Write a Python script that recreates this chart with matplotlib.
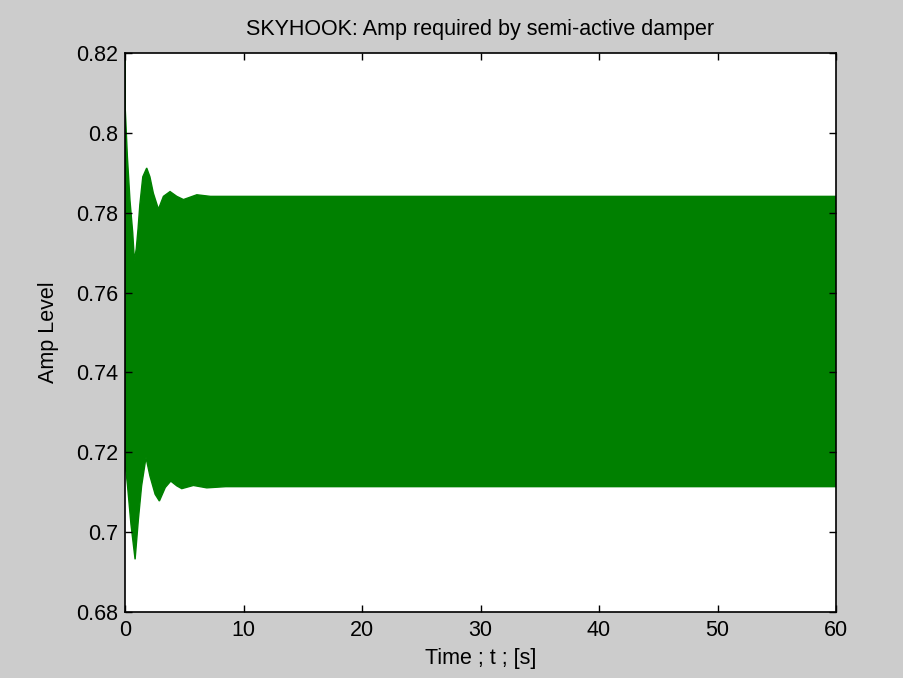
import matplotlib.pyplot as plt

# envelope of the (densely oscillating) amp signal
t_upper = [0.0, 0.02, 0.2, 0.42, 0.65, 0.79, 0.95, 1.1, 1.25, 1.5, 1.83, 2.1, 2.39,
           2.82, 3.24, 3.8, 4.37, 4.93, 6.06, 7.2, 8.5, 20.0, 40.0, 60.0]
amp_upper = [0.82, 0.806, 0.794, 0.783, 0.775, 0.768, 0.771, 0.776, 0.782, 0.789,
             0.7912, 0.789, 0.7849, 0.7809, 0.7841, 0.7853, 0.7841, 0.7833, 0.7845,
             0.7841, 0.7841, 0.7841, 0.7841, 0.7841]

t_lower = [0.0, 0.05, 0.2, 0.5, 0.85, 1.13, 1.4, 1.77, 2.1, 2.54, 2.9, 3.4, 3.86,
           4.37, 4.79, 5.77, 6.9, 8.5, 20.0, 40.0, 60.0]
amp_lower = [0.7257, 0.716, 0.712, 0.702, 0.6932, 0.7033, 0.7116, 0.7187, 0.7141,
             0.7095, 0.7078, 0.7112, 0.7128, 0.7116, 0.7109, 0.7117, 0.7111, 0.7114,
             0.7114, 0.7114, 0.7114]

plt.rcParams["font.family"] = ["Liberation Sans", "DejaVu Sans"]

fig = plt.figure(figsize=(9.04, 6.78), dpi=100, facecolor="#cccccc")
ax = fig.add_axes([0.1383, 0.0973, 0.7865, 0.8245])

# the band: upper envelope forward, lower envelope back
ax.fill(t_upper + t_lower[::-1], amp_upper + amp_lower[::-1],
        color="#008000", linewidth=1.0)

ax.set_xlim(0, 60)
ax.set_ylim(0.68, 0.82)
ax.set_xticks([0, 10, 20, 30, 40, 50, 60])
ax.set_yticks([0.68, 0.7, 0.72, 0.74, 0.76, 0.78, 0.8, 0.82])
ax.set_yticklabels(["0.68", "0.7", "0.72", "0.74", "0.76", "0.78", "0.8", "0.82"])
ax.tick_params(direction="in", top=True, right=True, length=5, width=1,
               labelsize=15.5, colors="black")
ax.tick_params(axis="x", pad=6)
ax.tick_params(axis="y", pad=5)
for s in ax.spines.values():
    s.set_linewidth(1.2)

ax.set_title("SKYHOOK: Amp required by semi-active damper", fontsize=15.5, pad=13)
ax.set_xlabel("Time ; t ; [s]", fontsize=15.5, labelpad=5)
ax.set_ylabel("Amp Level", fontsize=15.5, labelpad=12)

fig.savefig("out.png", dpi=100, facecolor=fig.get_facecolor())
